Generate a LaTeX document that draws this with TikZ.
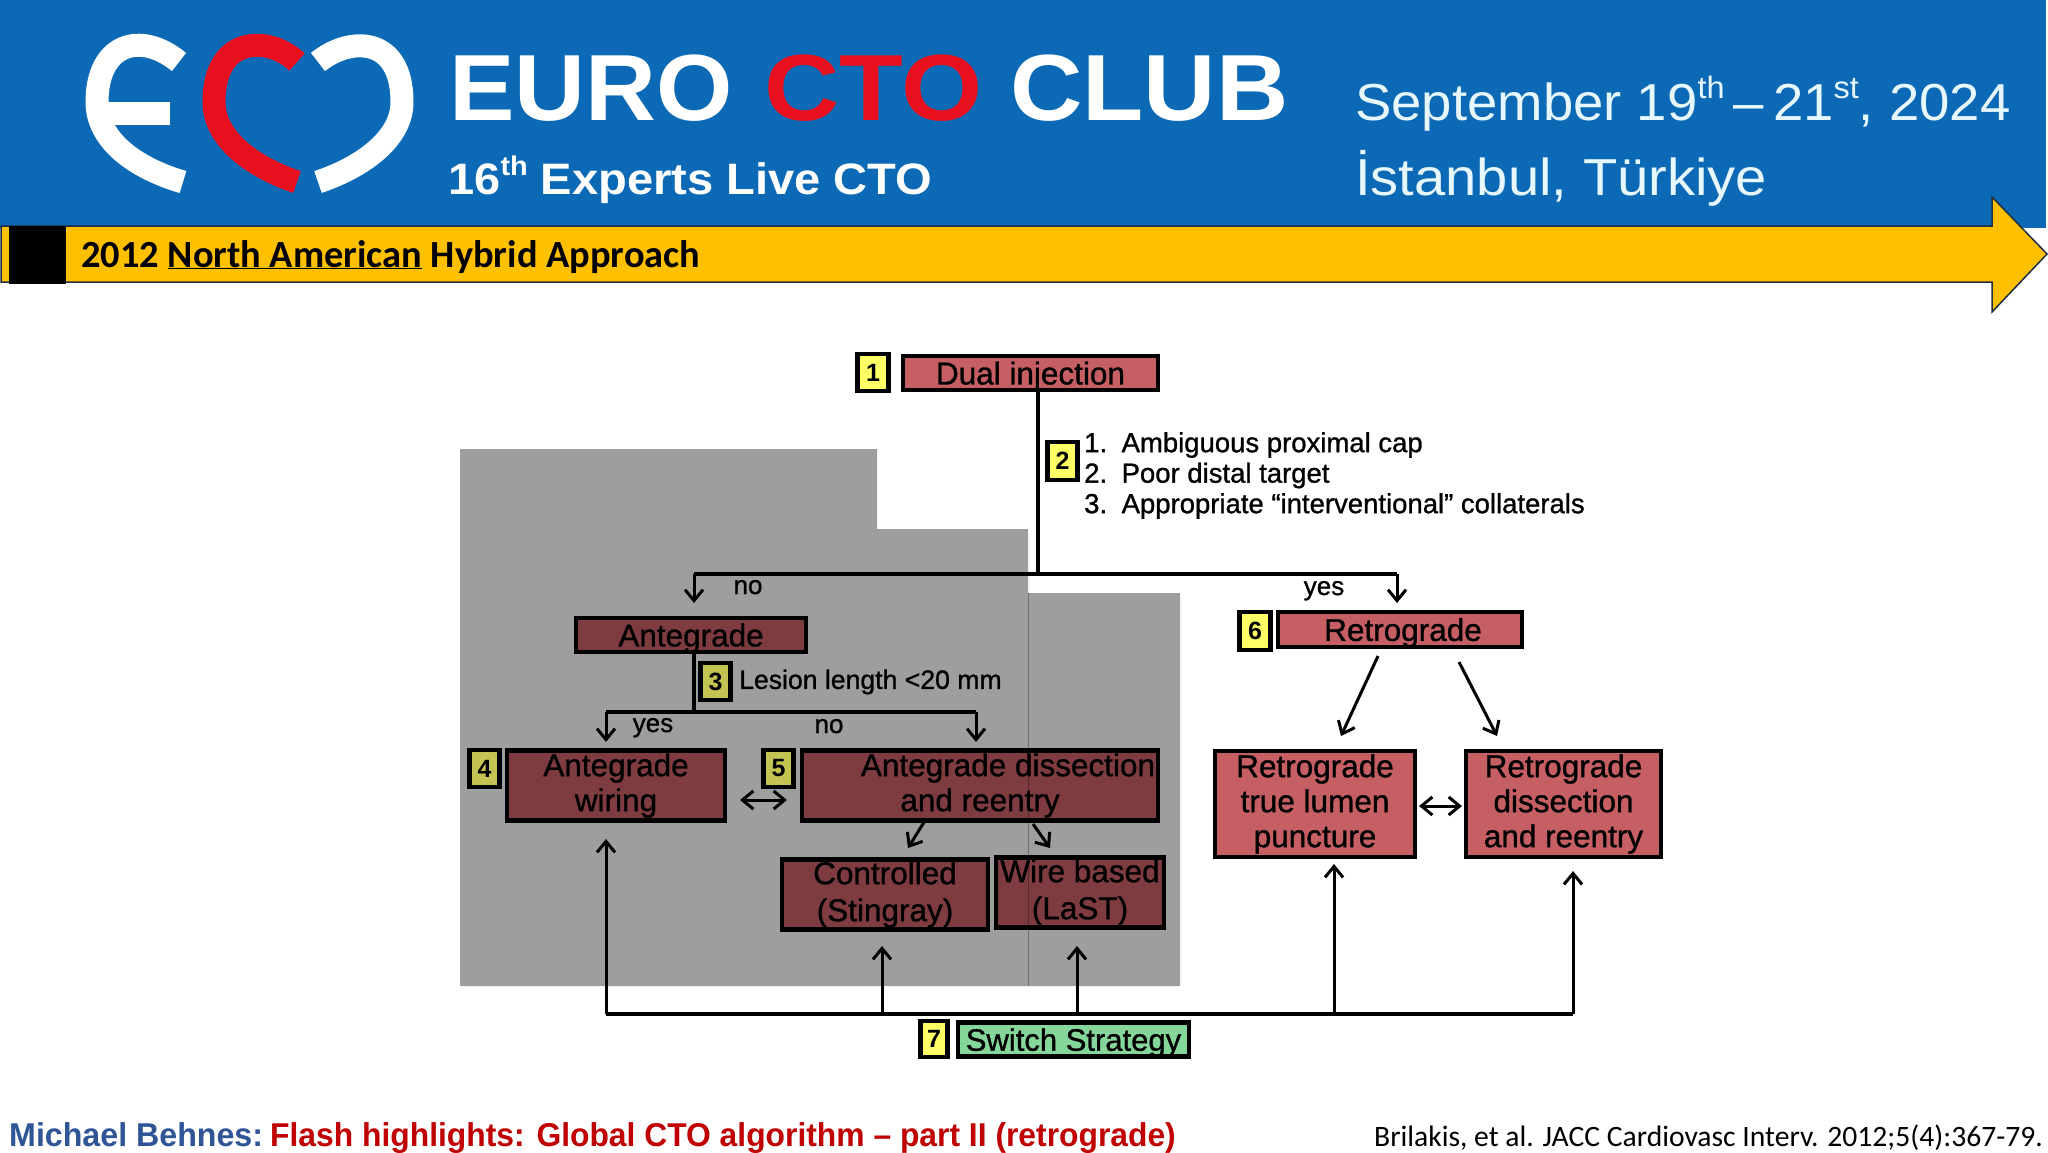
\documentclass[tikz,border=0pt]{standalone}
\usepackage{fontspec}
\setmainfont{Liberation Sans}
\newfontfamily\calibrifont{Carlito}
\newfontfamily\chartfont[FakeBold=1]{Liberation Sans}
\usetikzlibrary{arrows.meta}
\definecolor{HeaderBlue}{HTML}{0B69B5}
\definecolor{LogoRed}{HTML}{E8101E}
\definecolor{BannerYellow}{HTML}{FFC000}
\definecolor{BannerLine}{HTML}{1F2F3F}
\definecolor{MaskGray}{HTML}{9E9E9E}
\definecolor{SoftRed}{HTML}{C65F63}
\definecolor{DimRed}{HTML}{7E3C40}
\definecolor{TagYellow}{HTML}{FFFF66}
\definecolor{DimYellow}{HTML}{C4C455}
\definecolor{SoftGreen}{HTML}{84D69A}
\definecolor{NameBlue}{HTML}{2F5597}
\definecolor{TitleRed}{HTML}{C00000}
\newcommand{\fsize}[2]{\fontsize{#1}{#2}\selectfont}
\newcommand{\upmark}[2]{\raisebox{.42em}{\fsize{#1}{#1}#2}}
\newcommand{\widen}[2]{\scalebox{#1}[1]{#2}}
\tikzset{
  chartbox/.style={draw=black,line width=4.5pt,inner sep=0pt,align=center,font=\chartfont\fsize{31.5}{35}},
  oneline/.style={text depth=0pt},
  redbox/.style={chartbox,fill=SoftRed},
  dimbox/.style={chartbox,fill=DimRed},
  tagbox/.style={chartbox,fill=TagYellow,font=\bfseries\fsize{25}{28},minimum width=31pt,minimum height=38pt},
  dimtag/.style={tagbox,fill=DimYellow},
  flow/.style={line width=3pt,-{Straight Barb[length=11pt,width=18pt,line width=3pt]}},
  twoway/.style={line width=3pt,{Straight Barb[length=11pt,width=18pt,line width=3pt]}-{Straight Barb[length=11pt,width=18pt,line width=3pt]}},
  trunk/.style={line width=3.4pt},
  note/.style={font=\chartfont\fsize{27.5}{30.5},inner sep=0pt},
  branch/.style={font=\chartfont\fsize{26}{30},inner sep=0pt,text depth=0pt},
  logostroke/.style={line width=23pt,white},
  head/.style={anchor=base west,inner sep=0pt,font=\bfseries\fsize{94}{94}},
  place/.style={anchor=base west,inner sep=0pt,text=white!90!cyan,font=\fsize{52}{52}}
}
\begin{document}
\begin{tikzpicture}[x=1pt,y=-1pt]
  \useasboundingbox (0,0) rectangle (2048,1152);
  \fill[white] (0,0) rectangle (2048,1152);
  % header
  \fill[HeaderBlue] (0,0) rectangle (2046,228);
  \draw[logostroke] (179,62) .. controls (140,30) and (97,44) .. (97,102) .. controls (97,140) and (135,168) .. (183,182);
  \draw[logostroke] (106,113) -- (170,113);
  \draw[logostroke,LogoRed] (297,62) .. controls (270,36) and (214,34) .. (214,102) .. controls (214,140) and (255,168) .. (297,182);
  \draw[logostroke] (318,62) .. controls (350,36) and (402,36) .. (402,102) .. controls (402,140) and (360,168) .. (318,182);
  \node[head,text=white] (euro) at (449,120.5) {\widen{1.044}{EURO}};
  \node[head,text=LogoRed] (cto) at (764,120.5) {\widen{1.11}{CTO}};
  \node[head,text=white] (club) at (1010,120.5) {\widen{1.066}{CLUB}};
  \node[anchor=base west,inner sep=0pt,text=white,font=\bfseries\fsize{44}{44}] (experts) at (448,194) {\widen{1.07}{16\upmark{27}{th} Experts Live CTO}};
  \node[place] (dates) at (1355,120) {\widen{1.048}{September 19\upmark{31}{th}\,–\,21\upmark{31}{st}, 2024}};
  \node[place] (city) at (1355,195) {\widen{1.08}{İstanbul, Türkiye}};
  % banner arrow
  \draw[fill=BannerYellow,draw=BannerLine,line width=1.5pt] (1,226) -- (1992,226) -- (1992,197) -- (2047,254) -- (1992,312) -- (1992,282) -- (1,282) -- cycle;
  \fill[black] (9,226) rectangle (66,284);
  \node[anchor=base west,inner sep=0pt,font=\calibrifont\bfseries\fsize{38.4}{38.4}] (bannertext) at (81,267) {2012 \underline{North American} Hybrid Approach};
  % masked area
  \fill[MaskGray] (460,449) -- (877,449) -- (877,529) -- (1028,529) -- (1028,593) -- (1180,593) -- (1180,986) -- (460,986) -- cycle;
  % boxes
  \node[tagbox,minimum height=37pt] (tagA) at (873,372.5) {1};
  \node[redbox,oneline,minimum width=255pt,minimum height=34pt] (dual) at (1030.5,373) {Dual injection};
  \node[tagbox,minimum width=30pt] (tagB) at (1062.5,461) {2};
  \node[note,anchor=north west,align=left] (criteria) at (1084,432) {1.\hspace*{14.5pt}Ambiguous proximal cap\\2.\hspace*{14.5pt}Poor distal target\\3.\hspace*{14.5pt}Appropriate “interventional” collaterals};
  \node[dimbox,oneline,minimum width=230pt,minimum height=34pt] (ante) at (691,635) {Antegrade};
  \node[dimtag,minimum width=30pt,minimum height=37pt] (tagC) at (715.5,681.5) {3};
  \node[note,anchor=west,font=\chartfont\fsize{26.6}{30}] (length) at (739,682) {Lesion length <20 mm};
  \node[dimtag,minimum width=30pt,minimum height=37pt] (tagD) at (484.5,768.5) {4};
  \node[dimbox,minimum width=218pt,minimum height=70pt] (wiring) at (616,785.5) {Antegrade\\wiring};
  \node[dimtag,minimum width=30pt,minimum height=37pt] (tagE) at (778.5,768.5) {5};
  \node[dimbox,minimum width=356pt,minimum height=70pt] (adr) at (980,785.5) {\hspace*{56pt}Antegrade dissection\\and reentry};
  \node[dimbox,minimum width=206pt,minimum height=70pt,font=\chartfont\fsize{31.5}{37}] (controlled) at (885,894.5) {Controlled\\(Stingray)};
  \node[dimbox,minimum width=168pt,minimum height=70pt,font=\chartfont\fsize{31.5}{37}] (wirebased) at (1080,892.5) {Wire based\\(LaST)};
  \node[tagbox,minimum height=38pt] (tagF) at (1255,631) {6};
  \node[redbox,oneline,minimum width=244pt,minimum height=35pt] (retro) at (1400,629.5) {\hspace*{6pt}Retrograde};
  \node[redbox,minimum width=200pt,minimum height=106pt] (lumen) at (1315,804) {Retrograde\\true lumen\\puncture};
  \node[redbox,minimum width=195pt,minimum height=106pt] (rdr) at (1563.5,804) {Retrograde\\dissection\\and reentry};
  \node[tagbox,minimum width=27pt,minimum height=36pt] (tagG) at (934,1039) {7};
  \node[chartbox,oneline,fill=SoftGreen,minimum width=231pt,minimum height=34pt,font=\chartfont\fsize{31}{35}] (switch) at (1073.5,1039.5) {Switch Strategy};
  % branch labels
  \node[branch] (noA) at (748,587) {no};
  \node[branch] (yesA) at (1324,588) {yes};
  \node[branch] (yesB) at (653,725) {yes};
  \node[branch] (noB) at (829,726) {no};
  % connector ends
  \coordinate (forkA) at (1038,574);
  \coordinate (forkAl) at (694,574);
  \coordinate (forkAr) at (1397,574);
  \coordinate (inAnte) at (694,603);
  \coordinate (inRetro) at (1397,603);
  \coordinate (outAnte) at (694,654);
  \coordinate (forkB) at (694,712);
  \coordinate (forkBl) at (606,712);
  \coordinate (forkBr) at (976,712);
  \coordinate (inWiring) at (606,742);
  \coordinate (inAdr) at (976,742);
  \coordinate (swapAl) at (740,800);
  \coordinate (swapAr) at (787,800);
  \coordinate (swapBl) at (1419,806);
  \coordinate (swapBr) at (1462,806);
  \coordinate (busL) at (606,1014);
  \coordinate (busM) at (882,1014);
  \coordinate (busN) at (1077,1014);
  \coordinate (busP) at (1334,1014);
  \coordinate (busR) at (1573,1014);
  % connectors
  \draw[trunk] (dual.south -| forkA) -- (forkA);
  \draw[trunk] (forkAl) -- (forkAr);
  \draw[flow] (forkAl) -- (inAnte);
  \draw[flow] (forkAr) -- (inRetro);
  \draw[trunk] (outAnte) -- (forkB);
  \draw[trunk] (forkBl) -- (forkBr);
  \draw[flow] (forkBl) -- (inWiring);
  \draw[flow] (forkBr) -- (inAdr);
  \draw[twoway] (swapAl) -- (swapAr);
  \draw[twoway] (swapBl) -- (swapBr);
  \coordinate (adrL) at (926,819);
  \coordinate (adrR) at (1033,824);
  \coordinate (inCtrl) at (908,848);
  \coordinate (inWire) at (1050,848);
  \draw[flow] (adrL) -- (inCtrl);
  \draw[flow] (adrR) -- (inWire);
  \coordinate (retroL) at (1378,656);
  \coordinate (retroR) at (1459,662);
  \coordinate (inLumen) at (1341,736);
  \coordinate (inRdr) at (1497,736);
  \draw[flow] (retroL) -- (inLumen);
  \draw[flow] (retroR) -- (inRdr);
  \draw[trunk] (busL) -- (busR);
  \draw[flow] (busL) -- (606,839);
  \draw[flow] (busM) -- (882,946);
  \draw[flow] (busN) -- (1077,946);
  \draw[flow] (busP) -- (1334,864);
  \draw[flow] (busR) -- (1573,871);
  % seam of the mask
  \draw[black,opacity=.3,line width=.8pt] (1028,593) -- (1028,986);
  % footer
  \node[anchor=base west,inner sep=0pt,text=NameBlue,font=\bfseries\fsize{33}{33}] (speaker) at (9,1146) {\widen{.975}{Michael Behnes:}};
  \node[anchor=base west,inner sep=0pt,text=TitleRed,font=\bfseries\fsize{33}{33}] (talk) at (270,1146) {\widen{.964}{Flash highlights: Global CTO algorithm – part II (retrograde)}};
  \node[anchor=base east,inner sep=0pt,font=\calibrifont\fsize{29.6}{30}] (source) at (2043,1146) {Brilakis, et al. JACC Cardiovasc Interv. 2012;5(4):367-79.};
\end{tikzpicture}
\end{document}
